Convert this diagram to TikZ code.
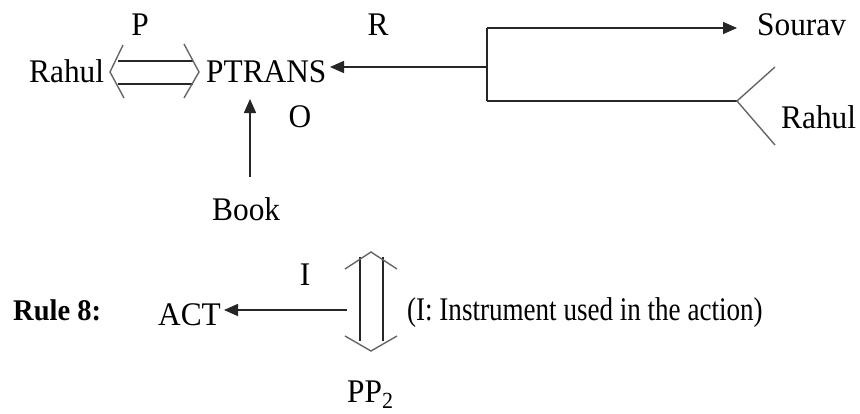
\documentclass[tikz,border=0pt]{standalone}
\usepackage{fontspec}
\setmainfont{Liberation Serif}
\newfontfamily\narrowserif[FakeStretch=0.95]{Liberation Serif}
\newfontfamily\capserif[FakeStretch=0.82]{Liberation Serif}
\usetikzlibrary{arrows.meta}
\begin{document}
\begin{tikzpicture}[x=1pt,y=-1pt,
  lbl/.style={inner sep=0pt,anchor=base west,font=\narrowserif\fontsize{33}{38}\selectfont},
  clbl/.style={lbl,anchor=base},
  ln/.style={line width=1.6pt,draw=black!85},
  arr/.style={ln,-{Triangle[length=14pt,width=12pt]}},
  chev/.style={line width=1.4pt,draw=black!60,line join=miter}]
\useasboundingbox (0,0) rectangle (860,413);
% nodes
\node[lbl] (rahulA) at (29,82) {Rahul};
\node[lbl] (ptrans) at (206,82) {PTRANS};
\node[clbl] (P) at (140,35) {P};
\node[clbl] (R) at (378,35) {R};
\node[clbl] (O) at (300,127) {O};
\node[lbl] (book) at (212,220) {Book};
\node[lbl] (sourav) at (757,35) {Sourav};
\node[lbl] (rahulB) at (781,128) {Rahul};
\node[lbl,font=\narrowserif\fontsize{30}{34}\selectfont\bfseries] (rule) at (13,320) {Rule 8:};
\node[lbl] (act) at (158,325) {ACT};
\node[clbl] (I) at (305,285) {I};
\node[lbl] (pp) at (347,402) {PP\textsubscript{2}};
\node[lbl,font=\capserif\fontsize{33}{38}\selectfont] (cap) at (407,320) {(I: Instrument used in the action)};
% coordinates
\coordinate (br) at (487,67);
\coordinate (bt) at (487,28);
\coordinate (bb) at (487,101);
\coordinate (tipP) at (330,67);
\coordinate (tipS) at (737,28);
\coordinate (tipR) at (737,101);
\coordinate (bkS) at (250,177);
\coordinate (bkE) at (250,99);
\coordinate (iS) at (347,310);
\coordinate (tipA) at (224,310);
% R branch
\draw[arr] (br) -- (tipP);
\draw[ln] (bt) -- (bb);
\draw[arr] (bt) -- (tipS);
\draw[ln] (bb) -- (tipR);
\draw[chev] (775,67) -- (tipR) -- (775,145);
% P double arrow
\draw[ln] (118,61) -- (193,61);
\draw[ln] (118,84) -- (193,84);
\draw[chev] (123,45) -- (110,72) -- (124,98);
\draw[chev] (184,44) -- (199,72) -- (184,98);
% Book to PTRANS
\draw[arr] (bkS) -- (bkE);
% Rule 8
\draw[arr] (iS) -- (tipA);
\draw[ln] (360,257) -- (360,341);
\draw[ln] (383,257) -- (383,341);
\draw[chev] (345,269) -- (371,252) -- (397,269);
\draw[chev] (345,336) -- (371,351) -- (397,336);
\end{tikzpicture}
\end{document}
